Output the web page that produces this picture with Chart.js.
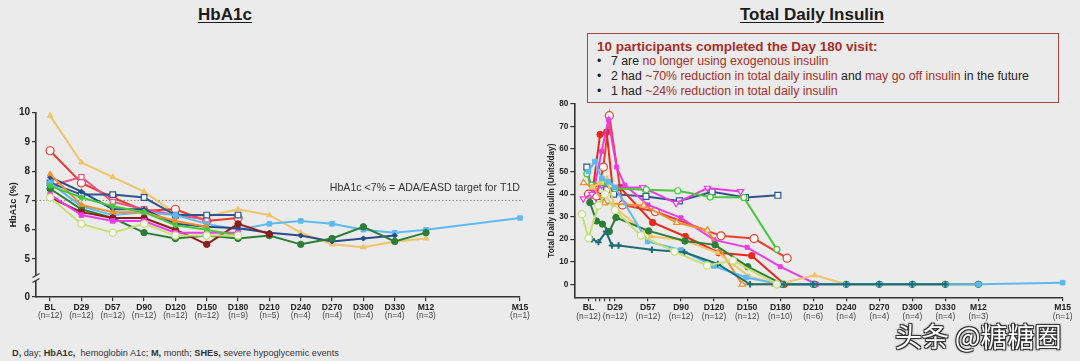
<!DOCTYPE html>
<html>
<head>
<meta charset="utf-8">
<script src="https://cdn.jsdelivr.net/npm/chart.js@4.4.0/dist/chart.umd.min.js"></script>
<style>
  body { margin: 0; width: 1080px; height: 361px; overflow: hidden; position: relative; background: #ebebeb; font-family: "Liberation Sans", Arial, sans-serif; }
  .title { position: absolute; top: 5px; font-weight: bold; font-size: 17px; text-decoration: underline; text-underline-offset: 2px; color: #1a1a1a; text-align: center; }
  canvas { position: absolute; }
  .box { position: absolute; left: 587px; top: 33px; width: 470px; height: 68px; border: 1.5px solid #a8473f; padding: 0; }
  .box div { position: absolute; left: 9px; white-space: nowrap; font-size: 12.3px; line-height: 14px; color: #222; }
  .box .head { top: 5px; font-weight: bold; font-size: 13.5px; line-height: 15px; color: #a3302a; }
  .box .r { color: #a3302a; }
  .box .b { left: 9px; }
  .box .t { left: 23px; }
  .foot { position: absolute; left: 12px; top: 348px; font-size: 9.2px; color: #333; white-space: nowrap; }
  .wm { position: absolute; left: 895px; top: 316px; font-family: "Noto Sans CJK SC", sans-serif; font-size: 27px; color: #fff; white-space: nowrap;
        text-shadow: -1px -1px 0 #333, 1px -1px 0 #333, -1px 1px 0 #333, 1px 1px 0 #333, 0 0 3px #000; }
</style>
</head>
<body>
<div class="title" style="left:0;width:450px">HbA1c</div>
<div class="title" style="left:612px;width:400px">Total Daily Insulin</div>

<div class="box">
  <div class="head">10 participants completed the Day 180 visit:</div>
  <div class="b" style="top:20px">•</div><div class="t" style="top:20px">7 are <span class="r">no longer using exogenous insulin</span></div>
  <div class="b" style="top:35px">•</div><div class="t" style="top:35px">2 had <span class="r">~70% reduction in total daily insulin</span> and <span class="r">may go off insulin</span> in the future</div>
  <div class="b" style="top:50px">•</div><div class="t" style="top:50px">1 had <span class="r">~24% reduction in total daily insulin</span></div>
</div>

<canvas id="hba1c" width="540" height="235" style="left:0;top:95px"></canvas>
<canvas id="insulin" width="560" height="235" style="left:520px;top:95px"></canvas>

<div class="foot"><b>D,</b> day; <b>HbA1c,</b>&nbsp; hemoglobin A1c; <b>M,</b> month; <b>SHEs,</b> severe hypoglycemic events</div>
<div class="wm">头条 @糖糖圈</div>

<script>
// ---- HbA1c panel ----
const hbVisits = ['BL', 'D29', 'D57', 'D90', 'D120', 'D150', 'D180', 'D210', 'D240', 'D270', 'D300', 'D330', 'M12', 'M15'];
const hbN = [12, 12, 12, 12, 12, 12, 9, 5, 4, 4, 4, 4, 3, 1];
const hbPos = [0, 1, 2, 3, 4, 5, 6, 7, 8, 9, 10, 11, 12, 15];
const hbYTicks = [5, 6, 7, 8, 9, 10];
const hbTarget = 7;

const hbGold      = [9.9, 8.3, 7.8, 7.3, 6.55, 6.45, 6.7, 6.5, 5.9, 5.5, 5.4, 5.6, 5.7, null];
const hbRedOpen   = [8.7, 7.6, 7.1, 6.65, 6.7, 6.3, 6.4, null, null, null, null, null, null, null];
const hbPinkOpen  = [7.5, 7.8, 6.95, 6.7, 6.5, 6.35, null, null, null, null, null, null, null, null];
const hbNavy      = [7.8, 7.3, 6.7, 6.7, 6.2, 6.1, 6.05, 5.9, 5.8, 5.6, 5.7, 5.8, null, null];
const hbBlueOpen  = [7.6, 7.2, 7.2, 7.1, 6.5, 6.5, 6.5, null, null, null, null, null, null, null];
const hbOrange    = [7.9, 6.85, 6.6, 6.6, 6.3, 6.1, null, null, null, null, null, null, null, null];
const hbGreen     = [7.5, 7.1, 6.8, 6.6, 6.15, 6.0, 5.8, null, null, null, null, null, null, null];
const hbLightBlue = [7.6, 6.8, 6.5, 6.6, 6.5, 6.2, 6.0, 6.2, 6.3, 6.2, 6.0, 5.9, 6.0, 6.4];
const hbMagenta   = [7.2, 6.5, 6.3, 6.3, 5.9, 5.9, 5.9, null, null, null, null, null, null, null];
const hbDarkGreen = [7.4, 6.7, 6.4, 5.9, 5.7, 5.8, 5.7, 5.8, 5.5, 5.7, 6.1, 5.6, 5.9, null];
const hbMaroon    = [7.1, 6.6, 6.4, 6.4, 6.0, 5.5, 6.2, 5.85, null, null, null, null, null, null];
const hbLime      = [7.1, 6.2, 5.9, 6.2, 5.8, 5.8, 5.8, null, null, null, null, null, null, null];

// ---- Total daily insulin panel ----
const insVisits = ['BL', 'D29', 'D57', 'D90', 'D120', 'D150', 'D180', 'D210', 'D240', 'D270', 'D300', 'D330', 'M12', 'M15'];
const insN = [12, 12, 12, 12, 12, 12, 10, 6, 4, 4, 4, 4, 3, 1];
const insPos = [0.2, 1, 2, 3, 4, 5, 6, 7, 8, 9, 10, 11, 12, 14.55];
const insMinor = [0.4, 0.545, 0.685, 0.83];
const insYTicks = [0, 10, 20, 30, 40, 50, 60, 70, 80];

const insNavyX = [0.15, 0.34, 0.58, 0.75, 0.96, 1.94, 2.95, 3.94, 4.95, 5.93];
const insNavyY = [52, 37, 39, 42, 40, 39, 37, 41, 38.5, 39.5];
const insGreenX = [0.15, 0.3, 0.6, 0.85, 1.0, 1.95, 2.9, 3.88, 4.9, 5.9];
const insGreenY = [49, 44, 45, 44, 42.5, 42, 41.5, 38.7, 38.5, 15.5];
const insMagTriX = [0.04, 0.3, 0.6, 1.0, 1.84, 2.85, 3.8, 4.8];
const insMagTriY = [38, 40, 44, 43, 43, 36, 42.7, 41.2];
const insMagX = [0.35, 0.6, 0.8, 1.05, 1.3, 2.0, 3.0, 4.0, 5.0, 6.0, 7.1];
const insMagY = [41, 59, 73, 52, 44, 35.2, 29.5, 19.7, 16.4, 7.8, 0];
const insRedX = [0.35, 0.55, 0.75, 0.93, 1.15, 2.14, 3.13, 4.14, 5.14, 6.13, 7.05];
const insRedY = [44, 66.5, 67.5, 42.7, 43, 27.4, 21.2, 14, 12.7, 0, 0];
const insRedOpenX = [0.2, 0.44, 0.65, 0.83, 1.23, 2.22, 4.21, 5.21, 6.21];
const insRedOpenY = [40, 39.2, 52, 74.8, 35.2, 32.3, 21.5, 20.3, 11.6];
const insOrangeX = [0.05, 0.35, 0.68, 1.87, 2.87, 3.8, 4.85, 5.85];
const insOrangeY = [45, 43, 36, 35, 27.4, 24, 0, 0];
const insGoldX = [0.3, 0.55, 0.75, 1.0, 2.09, 3.05, 4.11, 5.07, 5.93, 7.04, 8, 9, 10, 11, 12];
const insGoldY = [43, 45, 47, 34, 21.2, 19.7, 14, 3.4, 0, 4, 0, 0, 0, 0, 0];
const insDkGreenX = [0.24, 0.44, 0.62, 0.83, 1.03, 2.02, 3.12, 4.03, 5.02, 6.08, 7, 8, 9, 10, 11, 12];
const insDkGreenY = [36.3, 28.1, 26.7, 23.4, 29.6, 23.7, 19.2, 17.5, 7.8, 0, 0, 0, 0, 0, 0, 0];
const insBlueX = [0.2, 0.39, 0.6, 0.8, 1.0, 1.99, 3.0, 3.99, 4.97, 6, 7, 8, 9, 10, 11, 12, 14.55];
const insBlueY = [50, 54.5, 47, 45.5, 43, 19, 15.2, 8.1, 3, 0, 0, 0, 0, 0, 0, 0, 0.7];
const insLimeX = [0.0, 0.2, 0.5, 0.7, 1.0, 1.79, 2.8, 3.79, 4.57, 5.9];
const insLimeY = [31.1, 20.4, 35, 40, 33, 21.6, 14.5, 8.3, 10.5, 0];
const insTealX = [0.3, 0.5, 0.73, 0.91, 1.11, 2.12, 3.1, 4.11, 5.09, 6, 7, 8, 9, 10, 11];
const insTealY = [20, 18.7, 23.4, 17.2, 17.2, 15.3, 14.2, 9, 0, 0, 0, 0, 0, 0, 0];

const FONT = 'Liberation Sans';
const BG = '#ebebeb';

function styled(points, color, shape, open, extra) {
    return Object.assign({
        data: points,
        borderColor: color,
        backgroundColor: color,
        borderWidth: 2,
        pointStyle: shape,
        pointRadius: open ? 3.6 : 3.2,
        pointBorderWidth: open ? 1.2 : 1,
        pointBackgroundColor: open ? '#f6f6f6' : color,
        pointBorderColor: color,
        tension: 0,
        clip: false
    }, extra || {});
}

const fromVisits = vals => vals.map((v, i) => ({ x: hbPos[i], y: v })).filter(p => p.y !== null);
const fromXY = (xs, ys) => xs.map((x, i) => ({ x: x, y: ys[i] }));

function axisOptions(cfg) {
    return {
        responsive: false,
        animation: false,
        events: [],
        layout: { autoPadding: false, padding: { left: 0, top: cfg.top, right: cfg.right, bottom: 0 } },
        plugins: { legend: { display: false }, tooltip: { enabled: false } },
        scales: {
            x: {
                type: 'linear', min: cfg.xMin, max: cfg.xMax,
                afterBuildTicks: ax => { ax.ticks = cfg.xTicks.map(v => ({ value: v })); },
                afterFit: ax => { ax.height = cfg.xH; },
                ticks: {
                    autoSkip: false, maxRotation: 0, padding: 1, color: '#222',
                    font: { family: FONT, weight: 'bold', size: 8.6 },
                    callback: (v, i) => cfg.xLabels[i] || ''
                },
                grid: { display: true, drawOnChartArea: false, drawTicks: true, tickLength: 4, color: '#333', lineWidth: 1.2 },
                border: { display: true, color: '#333', width: 1.6 }
            },
            y: {
                min: cfg.yMin, max: cfg.yMax,
                afterBuildTicks: ax => { ax.ticks = cfg.yTicks.map(v => ({ value: v })); },
                afterFit: ax => { ax.width = cfg.yW; },
                ticks: {
                    padding: 2, color: '#222',
                    font: { family: FONT, weight: 'bold', size: cfg.yFont },
                    callback: (v, i) => cfg.yLabels[i]
                },
                grid: { display: true, drawOnChartArea: false, drawTicks: true, tickLength: 4, color: '#333', lineWidth: 1.2 },
                border: { display: true, color: '#333', width: 1.6 }
            }
        }
    };
}

function drawBelowTicks(chart, positions, counts) {
    const { ctx, chartArea: a, scales: { x } } = chart;
    ctx.save();
    ctx.font = '8.4px "' + FONT + '"';
    ctx.fillStyle = '#444';
    ctx.textAlign = 'center';
    ctx.textBaseline = 'middle';
    positions.forEach((p, i) => ctx.fillText('(n=' + counts[i] + ')', x.getPixelForValue(p), a.bottom + 19));
    ctx.restore();
}

function drawYTitle(chart, text, cx, size) {
    const { ctx, chartArea: a } = chart;
    ctx.save();
    ctx.translate(cx, (a.top + a.bottom) / 2);
    ctx.rotate(-Math.PI / 2);
    ctx.font = 'bold ' + size + 'px "' + FONT + '"';
    ctx.fillStyle = '#222';
    ctx.textAlign = 'center';
    ctx.textBaseline = 'middle';
    ctx.fillText(text, 0, 0);
    ctx.restore();
}

// HbA1c: the axis is broken between 0 and 5, so the "0" sits at the bottom of the shown range
const hbBase = 3.7;
const hbExtras = {
    id: 'hbExtras',
    beforeDatasetsDraw(chart) {
        const { ctx, chartArea: a, scales: { y } } = chart;
        const yt = y.getPixelForValue(hbTarget);
        ctx.save();
        ctx.strokeStyle = '#8a8a8a';
        ctx.lineWidth = 1;
        ctx.setLineDash([1.5, 2]);
        ctx.beginPath();
        ctx.moveTo(a.left, yt);
        ctx.lineTo(a.right + 3, yt);
        ctx.stroke();
        ctx.setLineDash([]);
        ctx.font = '10.6px "' + FONT + '"';
        ctx.fillStyle = '#333';
        ctx.textAlign = 'right';
        ctx.textBaseline = 'middle';
        ctx.fillText('HbA1c <7% = ADA/EASD target for T1D', a.right, yt - 12);
        ctx.restore();
    },
    afterDraw(chart) {
        const { ctx, chartArea: a, scales: { y } } = chart;
        drawBelowTicks(chart, hbPos, hbN);
        drawYTitle(chart, 'HbA1c (%)', 14, 9);
        const yb = y.getPixelForValue(4.35);
        ctx.save();
        ctx.fillStyle = BG;
        ctx.fillRect(a.left - 3, yb - 2.5, 6, 5);
        ctx.strokeStyle = '#333';
        ctx.lineWidth = 1.2;
        [-2.5, 2.5].forEach(d => {
            ctx.beginPath();
            ctx.moveTo(a.left - 3.5, yb + d + 2);
            ctx.lineTo(a.left + 3.5, yb + d - 2);
            ctx.stroke();
        });
        ctx.restore();
    }
};

new Chart(document.getElementById('hba1c'), {
    type: 'line',
    data: {
        datasets: [
            styled(fromVisits(hbLime), '#c6df72', 'circle', true),
            styled(fromVisits(hbGreen), '#47c83a', 'circle', false, { pointRadius: 2.4 }),
            styled(fromVisits(hbOrange), '#f0902c', 'triangle', false),
            styled(fromVisits(hbMagenta), '#ea3ce6', 'rect', false),
            styled(fromVisits(hbMaroon), '#8e1c1c', 'circle', false),
            styled(fromVisits(hbDarkGreen), '#2b7d37', 'circle', false),
            styled(fromVisits(hbNavy), '#264d8a', 'rectRot', false, { pointRadius: 2.6 }),
            styled(fromVisits(hbLightBlue), '#5cbaf0', 'rect', false),
            styled(fromVisits(hbBlueOpen), '#2f5590', 'rect', true, { pointRadius: 4 }),
            styled(fromVisits(hbPinkOpen), '#ec4f86', 'rect', true),
            styled(fromVisits(hbRedOpen), '#e83a2c', 'circle', true, { pointRadius: 4 }),
            styled(fromVisits(hbGold), '#f0c468', 'triangle', false)
        ]
    },
    options: axisOptions({
        top: 17.7, right: 20, xH: 33, yW: 36,
        xMin: -0.45, xMax: 15, yMin: hbBase, yMax: 10,
        xTicks: hbPos, xLabels: hbVisits,
        yTicks: [hbBase].concat(hbYTicks), yLabels: ['0'].concat(hbYTicks.map(String)),
        yFont: 10
    }),
    plugins: [hbExtras]
});

const insExtras = {
    id: 'insExtras',
    afterDraw(chart) {
        drawBelowTicks(chart, insPos, insN);
        drawYTitle(chart, 'Total Daily Insulin (Units/day)', 32, 8.2);
    }
};

const insTicks = insPos.slice(0, 1).concat(insMinor, insPos.slice(1));
const insLabels = insVisits.slice(0, 1).concat(insMinor.map(() => ''), insVisits.slice(1));

new Chart(document.getElementById('insulin'), {
    type: 'line',
    data: {
        datasets: [
            styled(fromXY(insLimeX, insLimeY), '#c6df72', 'circle', true),
            styled(fromXY(insTealX, insTealY), '#1d6d77', 'cross', false, { pointBorderWidth: 2 }),
            styled(fromXY(insBlueX, insBlueY), '#5cbaf0', 'rect', false),
            styled(fromXY(insDkGreenX, insDkGreenY), '#2b7d37', 'circle', false),
            styled(fromXY(insGoldX, insGoldY), '#f0c468', 'triangle', false),
            styled(fromXY(insOrangeX, insOrangeY), '#f0902c', 'triangle', true),
            styled(fromXY(insGreenX, insGreenY), '#47c83a', 'circle', true, { pointRadius: 3 }),
            styled(fromXY(insMagTriX, insMagTriY), '#ea3ce6', 'triangle', true, { pointRotation: 180 }),
            styled(fromXY(insMagX, insMagY), '#ea3ce6', 'rect', false, { pointRadius: 2.8 }),
            styled(fromXY(insRedX, insRedY), '#e8281c', 'circle', false),
            styled(fromXY(insRedOpenX, insRedOpenY), '#e8402c', 'circle', true, { pointRadius: 4 }),
            styled(fromXY(insNavyX, insNavyY), '#2f5590', 'rect', true, { pointRadius: 4.2 })
        ]
    },
    options: axisOptions({
        top: 9, right: 17.3, xH: 32.7, yW: 54.3,
        xMin: -0.23, xMax: 14.55, yMin: -5.78, yMax: 80,
        xTicks: insTicks, xLabels: insLabels,
        yTicks: insYTicks, yLabels: insYTicks.map(String),
        yFont: 8.2
    }),
    plugins: [insExtras]
});
</script>
</body>
</html>
